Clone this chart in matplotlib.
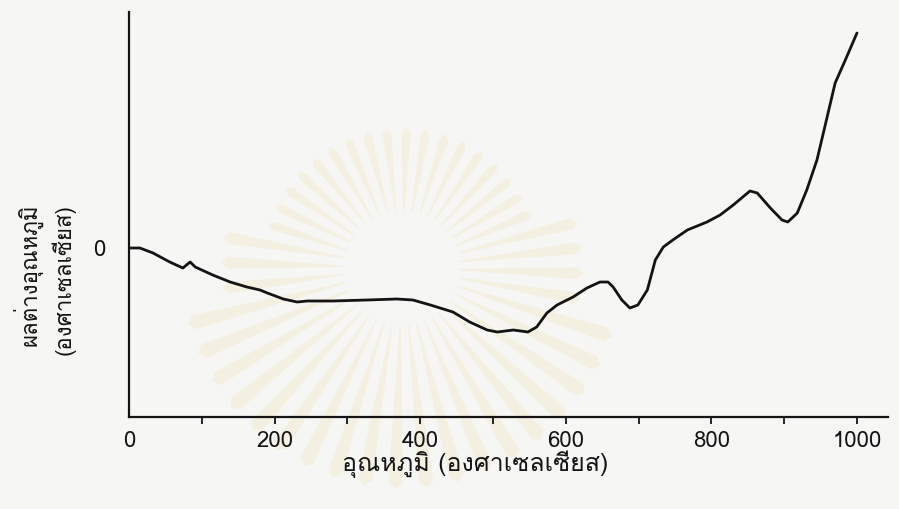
import numpy as np
import matplotlib
matplotlib.use('Agg')
import matplotlib.pyplot as plt
from matplotlib import font_manager
from matplotlib.patches import Polygon
from matplotlib.ticker import FixedLocator
from fontTools.ttLib import TTFont

# DTA trace: temperature (deg C) vs. temperature difference (arbitrary units)
temperature = [0, 15, 33, 56, 74, 84, 91, 115, 139, 162, 180, 190, 212, 231,
               245, 280, 327, 368, 390, 414, 445, 468, 492, 506, 528, 548,
               560, 574, 588, 610, 629, 647, 658, 665, 677, 688, 699, 712,
               723, 734, 747, 767, 794, 812, 830, 853, 863, 881, 897, 905,
               918, 931, 945, 959, 970, 984, 1000]
delta_t = [0.0, 0.0, -0.5, -1.4, -2.0, -1.4, -1.9, -2.7, -3.4, -3.9, -4.2,
           -4.5, -5.1, -5.4, -5.3, -5.3, -5.2, -5.1, -5.2, -5.7, -6.4, -7.4,
           -8.2, -8.4, -8.2, -8.4, -7.9, -6.5, -5.7, -4.9, -4.0, -3.4, -3.4,
           -3.9, -5.2, -6.0, -5.7, -4.2, -1.2, 0.1, 0.8, 1.8, 2.6, 3.3, 4.3,
           5.7, 5.5, 4.0, 2.8, 2.6, 3.5, 5.8, 8.8, 13.1, 16.5, 18.8, 21.5]

x_major = [0, 200, 400, 600, 800, 1000]
x_minor = [100, 300, 500, 700, 900]
x_label = 'อุณหภูมิ (องศาเซลเซียส)'
y_label = 'ผลต่างอุณหภูมิ\n(องศาเซลเซียส)'

PAPER = '#f6f6f4'
INK = '#141414'


def find_thai_font():
    """Return the name of an installed font that has Thai glyphs, if any."""
    for entry in font_manager.fontManager.ttflist:
        try:
            cmap = TTFont(entry.fname, fontNumber=0, lazy=True).getBestCmap()
        except Exception:
            continue
        if cmap and all(ord(c) in cmap for c in 'อุณหภูมิผลต่าง'):
            return entry.name
    return None


thai = find_thai_font()
families = [thai, 'DejaVu Sans'] if thai else ['DejaVu Sans']
plt.rcParams['font.family'] = families

W, H = 899, 509
fig = plt.figure(figsize=(W / 100, H / 100), dpi=100, facecolor=PAPER)

# faint sunburst emblem printed on the page
bg = fig.add_axes([0, 0, 1, 1], zorder=0)
bg.set_xlim(0, W)
bg.set_ylim(H, 0)
bg.axis('off')
cx, cy = 402, 268
n_rays = 44
for k in range(n_rays):
    a = 2 * np.pi * k / n_rays + 0.03
    # rays above the centre are shorter than those below it
    r_in = 58
    r_out = 215 if np.sin(a) > 0.2 else (175 if np.sin(a) > -0.3 else 135)
    half_in, half_out = 0.012, 0.034
    pts = [(cx + r_in * np.cos(a - half_in), cy + r_in * np.sin(a - half_in)),
           (cx + r_out * np.cos(a - half_out), cy + r_out * np.sin(a - half_out)),
           (cx + (r_out + 6) * np.cos(a), cy + (r_out + 6) * np.sin(a)),
           (cx + r_out * np.cos(a + half_out), cy + r_out * np.sin(a + half_out)),
           (cx + r_in * np.cos(a + half_in), cy + r_in * np.sin(a + half_in))]
    bg.add_patch(Polygon(pts, closed=True, facecolor='#f2e6c0', edgecolor='none', alpha=0.35))

# main axes placed on the page
left, right, bottom, top = 129, 888, 417, 12
ax = fig.add_axes([left / W, 1 - bottom / H, (right - left) / W, (bottom - top) / H], zorder=1)
ax.patch.set_alpha(0)

ax.plot(temperature, delta_t, color=INK, lw=2.0, solid_capstyle='round', solid_joinstyle='round')

ax.set_xlim(0, 1042.6)
ax.set_ylim(-16.9, 23.6)

for side in ('top', 'right'):
    ax.spines[side].set_visible(False)
for side in ('left', 'bottom'):
    ax.spines[side].set_color(INK)
    ax.spines[side].set_linewidth(1.6)

ax.xaxis.set_major_locator(FixedLocator(x_major))
ax.xaxis.set_minor_locator(FixedLocator(x_minor))
ax.set_xticklabels([str(v) for v in x_major])
ax.tick_params(axis='x', which='both', direction='out', length=5, width=1.3,
               color=INK, labelsize=16, labelcolor=INK, pad=5)
ax.xaxis.get_major_ticks()[0].tick1line.set_visible(False)

ax.set_yticks([0])
ax.set_yticklabels(['0'])
ax.tick_params(axis='y', length=0, labelsize=16, labelcolor=INK, pad=17)

ax.set_xlabel(x_label, fontsize=18, color=INK)
ax.xaxis.set_label_coords((475 - left) / (right - left), (bottom - 450) / (bottom - top))
ax.xaxis.label.set_va('top')

ax.set_ylabel(y_label, fontsize=16, color=INK, rotation=90, ha='right', va='bottom',
              multialignment='right', linespacing=1.45)
ax.yaxis.set_label_coords((76 - left) / (right - left), (bottom - 204) / (bottom - top))

fig.savefig('out.png', dpi=100, facecolor=PAPER)
